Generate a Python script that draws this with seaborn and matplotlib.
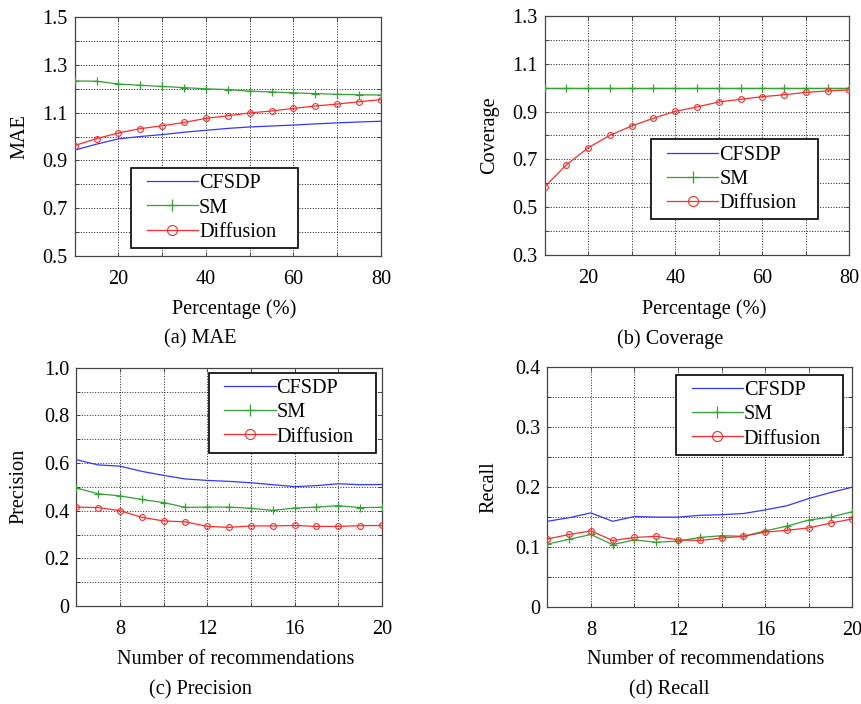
import numpy as np
import pandas as pd
import matplotlib
matplotlib.use("Agg")
import matplotlib.pyplot as plt
import seaborn as sns
from matplotlib.ticker import MultipleLocator, FixedLocator
from matplotlib.lines import Line2D
from matplotlib.legend_handler import HandlerLine2D

# ---------------- data ----------------
pct = [10, 15, 20, 25, 30, 35, 40, 45, 50, 55, 60, 65, 70, 75, 80]
mae_cfsdp = [0.943, 0.968, 0.990, 1.000, 1.008, 1.018, 1.026, 1.034, 1.040, 1.044, 1.048, 1.053, 1.057, 1.061, 1.064]
mae_sm = [1.233, 1.232, 1.220, 1.215, 1.210, 1.205, 1.200, 1.197, 1.190, 1.187, 1.183, 1.180, 1.177, 1.175, 1.174]
mae_diff = [0.962, 0.991, 1.015, 1.033, 1.045, 1.059, 1.076, 1.087, 1.099, 1.107, 1.118, 1.128, 1.136, 1.146, 1.155]

cov_cfsdp = [1.0] * 15
cov_sm = [1.0] * 15
cov_diff = [0.586, 0.678, 0.749, 0.801, 0.840, 0.872, 0.901, 0.919, 0.940, 0.951, 0.962, 0.970, 0.980, 0.986, 0.990]

nrec = [6, 7, 8, 9, 10, 11, 12, 13, 14, 15, 16, 17, 18, 19, 20]
prec_cfsdp = [0.614, 0.592, 0.587, 0.565, 0.548, 0.533, 0.527, 0.523, 0.517, 0.509, 0.501, 0.505, 0.513, 0.509, 0.510]
prec_sm = [0.495, 0.471, 0.462, 0.447, 0.434, 0.414, 0.415, 0.415, 0.410, 0.401, 0.411, 0.415, 0.421, 0.413, 0.414]
prec_diff = [0.415, 0.413, 0.400, 0.372, 0.357, 0.353, 0.334, 0.330, 0.336, 0.336, 0.338, 0.334, 0.334, 0.337, 0.338]

rec_cfsdp = [0.143, 0.149, 0.157, 0.143, 0.151, 0.150, 0.150, 0.153, 0.154, 0.156, 0.162, 0.169, 0.181, 0.191, 0.200]
rec_sm = [0.105, 0.113, 0.121, 0.104, 0.112, 0.108, 0.110, 0.116, 0.119, 0.118, 0.127, 0.135, 0.145, 0.150, 0.159]
rec_diff = [0.1135, 0.121, 0.127, 0.111, 0.116, 0.118, 0.112, 0.111, 0.115, 0.118, 0.125, 0.128, 0.132, 0.140, 0.147]

methods = ["CFSDP", "SM", "Diffusion"]
captions = ["(a) MAE", "(b) Coverage", "(c) Precision", "(d) Recall"]
ylabels = ["MAE", "Coverage", "Precision", "Recall"]
xlabels = ["Percentage (%)", "Percentage (%)", "Number of recommendations", "Number of recommendations"]

xticks_pct = [20, 40, 60, 80]
xticks_rec = [8, 12, 16, 20]
yticks_mae = [0.5, 0.7, 0.9, 1.1, 1.3, 1.5]
yticklabels_mae = ["0.5", "0.7", "0.9", "1.1", "1.3", "1.5"]
yticks_cov = [0.3, 0.5, 0.7, 0.9, 1.1, 1.3]
yticklabels_cov = ["0.3", "0.5", "0.7", "0.9", "1.1", "1.3"]
yticks_prec = [0.0, 0.2, 0.4, 0.6, 0.8, 1.0]
yticklabels_prec = ["0", "0.2", "0.4", "0.6", "0.8", "1.0"]
yticks_rec = [0.0, 0.1, 0.2, 0.3, 0.4]
yticklabels_rec = ["0", "0.1", "0.2", "0.3", "0.4"]

# ---------------- style ----------------
plt.rcParams["font.family"] = ["Liberation Serif", "DejaVu Serif"]
FS = 14.6

colors = {"CFSDP": "#3535ff", "SM": "#35a035", "Diffusion": "#ff2a2a"}


class ShiftedLine(HandlerLine2D):
    """Legend line that leaves a small gap at its left end."""
    def __init__(self, offset=7.0, **kw):
        super().__init__(**kw)
        self.offset = offset

    def get_xdata(self, legend, xdescent, ydescent, width, height, fontsize):
        x0 = -xdescent + self.offset
        x1 = -xdescent + width
        return np.array([x0, x1]), np.array([(x0 + x1) / 2.0])


fig = plt.figure(figsize=(8.62, 7.04), dpi=100)

W, H = 862.0, 704.0
def add_ax(l, r, t, b):
    return fig.add_axes([l / W, 1 - b / H, (r - l) / W, (b - t) / H])

axes = [
    add_ax(74.7, 381.0, 17.3, 255.7),
    add_ax(544.7, 849.3, 15.7, 255.3),
    add_ax(76.3, 382.0, 367.7, 606.0),
    add_ax(547.3, 852.3, 367.3, 607.0),
]

panels = [
    (pct, [mae_cfsdp, mae_sm, mae_diff]),
    (pct, [cov_cfsdp, cov_sm, cov_diff]),
    (nrec, [prec_cfsdp, prec_sm, prec_diff]),
    (nrec, [rec_cfsdp, rec_sm, rec_diff]),
]

settings = [
    dict(xlim=(10, 80), ylim=(0.5, 1.5), xt=xticks_pct, xmin=10, yt=yticks_mae, ytl=yticklabels_mae, ymin=0.1),
    dict(xlim=(10, 80), ylim=(0.3, 1.3), xt=xticks_pct, xmin=10, yt=yticks_cov, ytl=yticklabels_cov, ymin=0.1),
    dict(xlim=(6, 20), ylim=(0.0, 1.0), xt=xticks_rec, xmin=2, yt=yticks_prec, ytl=yticklabels_prec, ymin=0.1),
    dict(xlim=(6, 20), ylim=(0.0, 0.4), xt=xticks_rec, xmin=2, yt=yticks_rec, ytl=yticklabels_rec, ymin=0.05),
]

# legend boxes in axes fraction: (x0, y0, width, height)
legend_box = [(0.184, 0.036, 0.545, 0.332), (0.350, 0.156, 0.548, 0.328),
              (0.433, 0.650, 0.547, 0.329), (0.421, 0.642, 0.549, 0.327)]
xlabel_pos = [(0.522, -0.224), (0.523, -0.224), (0.521, -0.224), (0.519, -0.218)]
ylabel_pos = [-0.179, -0.182, -0.186, -0.190]
caption_pos = [(200, 339), (670, 339), (200, 689.7), (669.5, 689.7)]

for i, ax in enumerate(axes):
    x, series = panels[i]
    df = pd.DataFrame({"x": x})
    for m, vals in zip(methods, series):
        df[m] = vals
    sns.lineplot(data=df, x="x", y="CFSDP", ax=ax, color=colors["CFSDP"],
                 lw=0.9, label="CFSDP", zorder=3)
    sns.lineplot(data=df, x="x", y="SM", ax=ax, color=colors["SM"], lw=0.9,
                 marker="+", markersize=6, mew=0.9, mec=colors["SM"], label="SM", zorder=4)
    sns.lineplot(data=df, x="x", y="Diffusion", ax=ax, color=colors["Diffusion"], lw=0.9,
                 marker="o", markersize=4.2, mfc="none", mec=colors["Diffusion"], mew=0.8,
                 label="Diffusion", zorder=5)

    st = settings[i]
    ax.set_xlim(*st["xlim"])
    ax.set_ylim(*st["ylim"])
    ax.xaxis.set_major_locator(FixedLocator(st["xt"]))
    ax.set_xticklabels([str(v) for v in st["xt"]])
    ax.xaxis.set_minor_locator(MultipleLocator(st["xmin"]))
    ax.yaxis.set_major_locator(FixedLocator(st["yt"]))
    ax.set_yticklabels(st["ytl"])
    ax.yaxis.set_minor_locator(MultipleLocator(st["ymin"]))

    ax.grid(True, which="both", linestyle=(0, (1.2, 2.0)), color="black", lw=0.6, zorder=0)
    ax.set_axisbelow(True)
    ax.tick_params(which="both", direction="in", top=True, right=True, length=3,
                   width=0.6, color="#333333")
    ax.tick_params(axis="x", which="major", pad=10, labelsize=FS)
    ax.tick_params(axis="y", which="major", pad=5, labelsize=FS)
    for s in ax.spines.values():
        s.set_color("#444444")
        s.set_linewidth(0.9)

    ax.set_xlabel(xlabels[i], fontsize=FS)
    ax.set_ylabel(ylabels[i], fontsize=FS)
    ax.xaxis.label.set_va("center")
    ax.yaxis.label.set_va("center")
    ax.xaxis.set_label_coords(*xlabel_pos[i])
    ax.yaxis.set_label_coords(ylabel_pos[i], 0.5)

    leg = ax.legend(loc="upper left", bbox_to_anchor=legend_box[i], mode="expand",
                    fontsize=FS, frameon=True, fancybox=False, framealpha=1,
                    edgecolor="black", borderaxespad=0, borderpad=0.3,
                    handlelength=3.0, handletextpad=0.05, labelspacing=0.25,
                    handler_map={Line2D: ShiftedLine(offset=7.0)})
    leg.get_frame().set_linewidth(1.2)
    for h in leg.legend_handles:
        if h.get_marker() == "o":
            h.set_markersize(7.2)
        elif h.get_marker() == "+":
            h.set_markersize(8.5)
    leg.set_zorder(10)

    cx, cy = caption_pos[i]
    fig.text(cx / W, 1 - cy / H, captions[i], ha="center", va="center", fontsize=FS)

fig.savefig("out.png", dpi=100)
